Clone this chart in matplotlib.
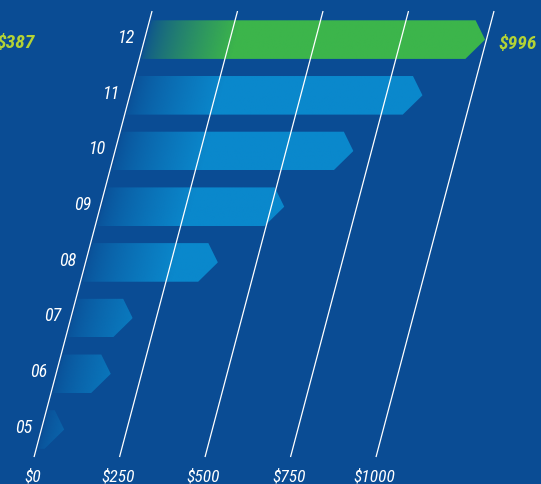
import numpy as np
import matplotlib
matplotlib.use("Agg")
import matplotlib.pyplot as plt
from matplotlib.patches import Polygon
from matplotlib.transforms import Affine2D
from matplotlib.colors import to_rgb

# ---- data ----
years = ["05", "06", "07", "08", "09", "10", "11", "12"]
values = [67, 160, 181, 387, 538, 697, 856, 996]
tick_values = [0, 250, 500, 750, 1000]
tick_labels = ["$0", "$250", "$500", "$750", "$1000"]
start_label = "$387"
end_label = "$996"

# ---- style ----
BG = "#0a4c94"
BLUE = "#0a88cc"
GREEN = "#3cb54b"
ACCENT = "#b4d335"
FONT = ["Roboto Condensed", "Liberation Sans Narrow", "Roboto", "DejaVu Sans"]

fig = plt.figure(figsize=(5.41, 4.84), dpi=100, facecolor=BG)
ax = fig.add_axes([0, 0, 1, 1])
ax.set_facecolor(BG)
ax.set_axis_off()

# slanted axis: x shifts to the right as rows go up
SLANT = 43.1
tr = Affine2D(np.array([[1.0, SLANT, 0.0], [0.0, 1.0, 0.0], [0.0, 0.0, 1.0]])) + ax.transData

bar_h = 0.693
tip = 42.7          # depth of the arrow head, in $
ramp = 260.0        # length of the fade-in at the start of each bar, in $
x_start = 5.0

for i, (yr, v) in enumerate(zip(years, values)):
    color = GREEN if i == len(values) - 1 else BLUE
    y0, y1 = i - bar_h / 2, i + bar_h / 2
    shape = Polygon([(x_start, y0), (v - tip, y0), (v, i), (v - tip, y1), (x_start, y1)],
                    closed=True, transform=tr, facecolor="none", edgecolor="none")
    ax.add_patch(shape)

    n = 400
    xs = np.linspace(x_start, v, n)
    alpha = np.clip(0.08 + 0.92 * np.clip((xs - x_start) / ramp, 0, 1) ** 0.75, 0, 1)
    rgba = np.zeros((1, n, 4))
    rgba[0, :, :3] = to_rgb(color)
    rgba[0, :, 3] = alpha
    im = ax.imshow(rgba, extent=(x_start, v, y0, y1), aspect="auto",
                   interpolation="bilinear", transform=tr, zorder=2)
    im.set_clip_path(shape)

    ax.text(-28, i + 0.03, yr, transform=tr, ha="right", va="center", color="white",
            fontsize=13, style="italic", family=FONT, zorder=4)

# slanted grid lines over the bars
for v in tick_values:
    ax.plot([v, v], [-0.494, 7.513], transform=tr, color="white", lw=0.9, zorder=3,
            solid_capstyle="butt")

for v, lab in zip(tick_values, tick_labels):
    ax.text(v - 26, -0.844, lab, ha="center", va="center", color="white",
            fontsize=12.5, style="italic", family=FONT, zorder=4)

ax.text(-18.4, 6.94, start_label, ha="right", va="center", color=ACCENT,
        fontsize=14, style="italic", weight="bold", family=FONT, zorder=4)
ax.text(1338, 6.93, end_label, ha="left", va="center", color=ACCENT,
        fontsize=14, style="italic", weight="bold", family=FONT, zorder=4)

ax.set_xlim(-120.8, 1461.2)
ax.set_ylim(-0.978, 7.711)

fig.savefig("out.png", dpi=100, facecolor=BG)
